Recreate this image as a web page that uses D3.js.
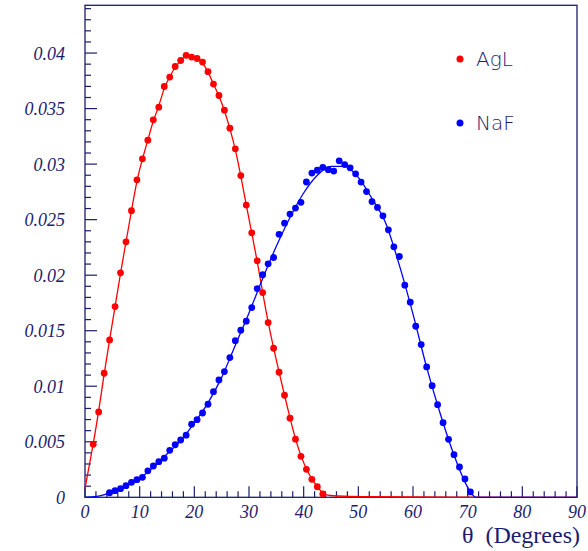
<!DOCTYPE html>
<html>
<head>
<meta charset="utf-8">
<script src="https://cdn.jsdelivr.net/npm/d3@7"></script>
<style>
  html, body { margin: 0; padding: 0; background: #fff; }
  svg { display: block; }
</style>
</head>
<body>
<svg id="chart" width="588" height="551"></svg>
<script>
// Angular distributions of Cherenkov emission for the two radiators (1° bins)
const agLAngles = d3.range(1.5, 44, 1);
const agLValues = [
  0.00477, 0.00768, 0.01117, 0.01417, 0.01717, 0.02021, 0.0230, 0.0258, 0.02859, 0.03048,
  0.03216, 0.03399, 0.03513, 0.03699, 0.03784, 0.03879, 0.03933, 0.0398, 0.03964, 0.03951,
  0.03919, 0.03832, 0.03721, 0.03618, 0.03486, 0.03324, 0.03138, 0.02897, 0.02631, 0.02381,
  0.02129, 0.01843, 0.01573, 0.01342, 0.01126, 0.00919, 0.00712, 0.00523, 0.00369, 0.00252,
  0.00162, 0.00095, 0.0003
];
const naFAngles = d3.range(4.5, 71, 1);
const naFValues = [
  0.00041, 0.0006, 0.00078, 0.00105, 0.00135, 0.00159, 0.0018, 0.00238, 0.00282, 0.00321,
  0.00352, 0.00423, 0.00473, 0.00516, 0.00559, 0.00658, 0.00699, 0.00759, 0.00838, 0.00951,
  0.01057, 0.01132, 0.01258, 0.0141, 0.01505, 0.01586, 0.01708, 0.01879, 0.02004, 0.02102,
  0.02159, 0.02368, 0.02468, 0.0255, 0.02604, 0.02656, 0.02839, 0.02919, 0.02945, 0.02971,
  0.0295, 0.02937, 0.0303, 0.02996, 0.02967, 0.02913, 0.02838, 0.02753, 0.02663, 0.0261,
  0.02534, 0.02408, 0.02255, 0.02168, 0.0191, 0.01757, 0.0154, 0.01375, 0.01174, 0.01005,
  0.00834, 0.00672, 0.00522, 0.00384, 0.00273, 0.00165, 0.00048
];

// Fitted curves, sampled along the angle axis
const agLFitAngles = [0, ...agLAngles, 44.5, 90];
const agLFitValues = [0.0008, ...agLValues, 0, 0];
const naFFitAngles = [0, 2.5, 5, 7.5, 10, 12.5, 15, 17.5, 20, 22.5, 25, 27.5, 30, 32.5, 35,
  37.5, 40, 42.5, 45, 47.5, 50, 52.5, 55, 57.5, 60, 62.5, 65, 67.5, 70, 71.5, 90];
const naFFitValues = [0, 0.0001, 0.0005, 0.00105, 0.0017, 0.0027, 0.0039, 0.0051, 0.0067,
  0.0085, 0.0108, 0.0137, 0.0166, 0.0197, 0.0226, 0.0252, 0.0274, 0.0290, 0.0298, 0.0298,
  0.0288, 0.0269, 0.0247, 0.0209, 0.0165, 0.0117, 0.0075, 0.0038, 0.0009, 0, 0];

const seriesNames = ["AgL", "NaF"];
const seriesColors = ["#ff0000", "#0000ff"];

const xTickValues = d3.range(0, 91, 10);
const xTickLabels = ["0", "10", "20", "30", "40", "50", "60", "70", "80", "90"];
const yTickValues = [0, 0.005, 0.01, 0.015, 0.02, 0.025, 0.03, 0.035, 0.04];
const yTickLabels = ["0", "0.005", "0.01", "0.015", "0.02", "0.025", "0.03", "0.035", "0.04"];
const xAxisTitle = "θ  (Degrees)";

const frameColor = "#1c1c6e";
const plot = { left: 85, right: 577, top: 5.3, bottom: 497.3 };

const svg = d3.select("#chart");
const x = d3.scaleLinear().domain([0, 90]).range([plot.left, plot.right]);
const y = d3.scaleLinear().domain([0, 0.0443]).range([plot.bottom, plot.top]);

// Frame
svg.append("rect")
  .attr("x", plot.left).attr("y", plot.top)
  .attr("width", plot.right - plot.left).attr("height", plot.bottom - plot.top)
  .attr("fill", "none").attr("stroke", frameColor).attr("stroke-width", 1.3);

// X axis: major ticks every 10, minor every 2, drawn inward
const xMinor = d3.range(0, 90.01, 2);
svg.append("g").selectAll("line").data(xMinor).join("line")
  .attr("x1", d => x(d)).attr("x2", d => x(d))
  .attr("y1", plot.bottom).attr("y2", d => plot.bottom - (d % 10 === 0 ? 11 : 6))
  .attr("stroke", frameColor).attr("stroke-width", 1.2);
svg.append("g").selectAll("text").data(xTickValues).join("text")
  .attr("x", d => x(d)).attr("y", plot.bottom + 21)
  .attr("text-anchor", "middle")
  .attr("font-family", "'Liberation Serif', 'Times New Roman', serif")
  .attr("font-style", "italic").attr("font-size", 18)
  .attr("fill", frameColor)
  .text((d, i) => xTickLabels[i]);

// Y axis: major ticks every 0.005, minor every 0.001
const yMinor = d3.range(0, 45).map(i => i * 0.001);
svg.append("g").selectAll("line").data(yMinor).join("line")
  .attr("y1", d => y(d)).attr("y2", d => y(d))
  .attr("x1", plot.left).attr("x2", (d, i) => plot.left + (i % 5 === 0 ? 12 : 6))
  .attr("stroke", frameColor).attr("stroke-width", 1.2);
svg.append("g").selectAll("text").data(yTickValues).join("text")
  .attr("x", 65).attr("y", d => y(d)).attr("dy", "0.36em")
  .attr("text-anchor", "end")
  .attr("font-family", "'Liberation Serif', 'Times New Roman', serif")
  .attr("font-style", "italic").attr("font-size", 18)
  .attr("fill", frameColor)
  .text((d, i) => yTickLabels[i]);

// Axis title
svg.append("text")
  .attr("x", 580).attr("y", 543)
  .attr("text-anchor", "end")
  .attr("font-family", "'Liberation Serif', 'Times New Roman', serif")
  .attr("font-size", 24)
  .attr("fill", frameColor)
  .attr("xml:space", "preserve")
  .style("white-space", "pre")
  .text(xAxisTitle);

// Fitted curves and data points
const line = d3.line().x(d => x(d[0])).y(d => y(d[1]));
const series = [
  {
    pts: agLAngles.map((a, i) => [a, agLValues[i]]),
    fit: agLFitAngles.map((a, i) => [a, agLFitValues[i]]),
    curve: d3.curveBasis
  },
  {
    pts: naFAngles.map((a, i) => [a, naFValues[i]]),
    fit: naFFitAngles.map((a, i) => [a, naFFitValues[i]]),
    curve: d3.curveMonotoneX
  }
];
series.forEach((s, k) => {
  svg.append("path")
    .attr("d", line.curve(s.curve)(s.fit))
    .attr("fill", "none").attr("stroke", seriesColors[k]).attr("stroke-width", 1.3);
  svg.append("g").selectAll("circle").data(s.pts).join("circle")
    .attr("cx", d => x(d[0])).attr("cy", d => y(d[1])).attr("r", 3.4)
    .attr("fill", seriesColors[k]);
});

// Legend
const legendY = [59, 123];
seriesNames.forEach((name, k) => {
  svg.append("circle").attr("cx", 460).attr("cy", legendY[k]).attr("r", 3.5)
    .attr("fill", seriesColors[k]);
  svg.append("text")
    .attr("x", 476).attr("y", legendY[k]).attr("dy", "0.36em")
    .attr("font-family", "'DejaVu Sans', sans-serif")
    .attr("font-weight", 200).attr("font-size", 20)
    .attr("fill", frameColor)
    .text(name);
});
</script>
</body>
</html>
